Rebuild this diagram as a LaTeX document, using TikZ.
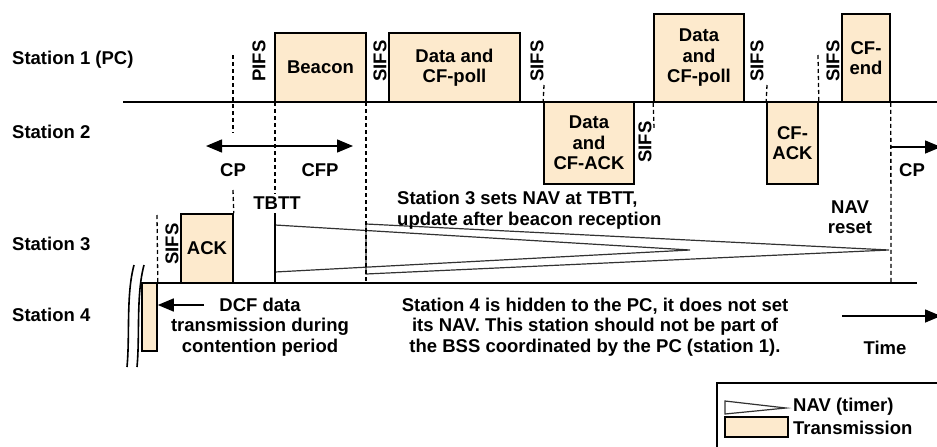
\documentclass[tikz,border=0pt]{standalone}
\usepackage{fontspec}
\setmainfont{Liberation Sans}
\usetikzlibrary{arrows.meta}
\definecolor{peach}{RGB}{253,234,205}
\definecolor{navc}{RGB}{50,50,50}
\tikzset{
  lbl/.style={font=\fontsize{18.5}{20.5}\selectfont\bfseries, inner sep=0pt, align=center},
  box/.style={draw, line width=1.6pt, fill=peach, inner sep=0pt, align=center,
              font=\fontsize{18.5}{20.5}\selectfont\bfseries},
  dsh/.style={line width=1.3pt, dash pattern=on 4pt off 3pt},
  base/.style={line width=1.6pt},
  navl/.style={line width=1.2pt, draw=navc},
  arr/.style={line width=1.5pt, -{Triangle[length=16pt,width=13pt]}},
  rlbl/.style={lbl, rotate=90},
}
\begin{document}
\begin{tikzpicture}[x=1pt,y=-1pt]
\useasboundingbox (0,0) rectangle (937,447);
\clip (0,0) rectangle (937,447);

% station labels
\node[lbl, anchor=west] (st1) at (12,60) {Station 1 (PC)};
\node[lbl, anchor=west] (st2) at (12,132) {Station 2};
\node[lbl, anchor=west] (st3) at (12,244) {Station 3};
\node[lbl, anchor=west] (st4) at (12,315) {Station 4};

% base lines
\coordinate (l1a) at (123,102); \coordinate (l1b) at (937,102);
\coordinate (l3a) at (142,283); \coordinate (l3b) at (917,283);
\draw[base] (l1a) -- (l1b);
\draw[base] (l3a) -- (l3b);

% NAV triangles
\coordinate (n1t) at (275,225); \coordinate (n1b) at (275,272); \coordinate (n1p) at (690,250);
\coordinate (n2t) at (366,224); \coordinate (n2b) at (366,274); \coordinate (n2p) at (889,250);
\draw[navl] (n1t) -- (n1p) -- (n1b);
\draw[navl] (n2t) -- (n2p) -- (n2b) -- cycle;

% transmission boxes
\node[box, minimum width=91pt, minimum height=69pt] (beacon) at (320.5,67.5) {Beacon};
\node[box, minimum width=131pt, minimum height=69pt] (dcp1) at (454.5,67.5) {Data and\\CF-poll};
\node[box, minimum width=90pt, minimum height=88pt] (dcp2) at (699,58) {Data\\and\\CF-poll};
\node[box, minimum width=48pt, minimum height=88pt] (cfend) at (866,58) {CF-\\end};
\node[box, minimum width=90pt, minimum height=82pt] (dack) at (589,143) {Data\\and\\CF-ACK};
\node[box, minimum width=51pt, minimum height=82pt] (cfack) at (792.5,143) {CF-\\ACK};
\node[box, minimum width=52pt, minimum height=69pt] (ack) at (207,248.5) {ACK};
\node[box, minimum width=15pt, minimum height=68pt] (st4box) at (149.5,317) {};

% dashed markers
\coordinate (p1) at (233,55); \coordinate (p2) at (233,133);
\coordinate (p3) at (233,190);
\draw[dsh] (p1) -- (p2);
\draw[dsh] (p3) -- (ack.north east);
\coordinate (t1) at (275,102); \coordinate (t2) at (275,194);
\coordinate (t3) at (275,213); \coordinate (t4) at (275,283);
\draw[dsh] (t1) -- (t2);
\draw[line width=1.3pt] (t3) -- (t4);
\coordinate (b1) at (366,102); \coordinate (b2) at (366,283);
\draw[dsh] (b1) -- (b2);
\coordinate (d1) at (544,85);
\draw[dsh] (d1) -- (dack.north west);
\coordinate (d2) at (654,128);
\draw[dsh] (dcp2.south west) -- (d2);
\coordinate (d3) at (767,85);
\draw[dsh] (d3) -- (cfack.north west);
\coordinate (d4) at (818,55);
\draw[dsh] (d4) -- (cfack.north east);
\coordinate (e2) at (891,283);
\draw[dsh] (cfend.south east) -- (e2);
\coordinate (s4a) at (157,215);
\draw[dsh] (s4a) -- (st4box.north east);

% IFS labels
\node[rlbl] (pifs) at (259,61) {PIFS};
\node[rlbl] (sifs1) at (380,61) {SIFS};
\node[rlbl] (sifs2) at (537,61) {SIFS};
\node[rlbl] (sifs3) at (645,142) {SIFS};
\node[rlbl] (sifs4) at (757,61) {SIFS};
\node[rlbl] (sifs5) at (833,61) {SIFS};
\node[rlbl] (sifs6) at (172,244) {SIFS};

% CP / CFP arrows
\coordinate (ca) at (206,146); \coordinate (cb) at (353,146);
\draw[line width=1.5pt, {Triangle[length=16pt,width=13pt]}-{Triangle[length=16pt,width=13pt]}] (ca) -- (cb);
\node[lbl] (cp1) at (233,170) {CP};
\node[lbl] (cfp) at (320,170) {CFP};
\node[lbl] (tbtt) at (277,203) {TBTT};
\coordinate (r1) at (891,147); \coordinate (r2) at (941,147);
\draw[arr] (r1) -- (r2);
\node[lbl] (cp2) at (912,170) {CP};

% NAV texts
\node[lbl, anchor=west, align=left] (navtxt) at (397,210) {Station 3 sets NAV at TBTT,\\update after beacon reception};
\node[lbl] (navreset) at (850,217) {NAV\\reset};

% station 4 texts
\coordinate (dcfa) at (204,305);
\draw[arr] (dcfa) -- (st4box.east |- dcfa);
\node[lbl] (dcf) at (260,327) {DCF data\\transmission during\\contention period};
\node[lbl] (hid) at (595,327) {Station 4 is hidden to the PC, it does not set\\its NAV. This station should not be part of\\the BSS coordinated by the PC (station 1).};
\coordinate (ta) at (842,316); \coordinate (tb) at (941,316);
\draw[arr] (ta) -- (tb);
\node[lbl] (time) at (885,348) {Time};

% break marks
\draw[line width=1.6pt] (134,265) .. controls (126,295) and (130,335) .. (127,367);
\draw[line width=1.6pt] (144,265) .. controls (136,295) and (140,335) .. (137,367);

% legend
\coordinate (lg1) at (717,383); \coordinate (lg2) at (945,455);
\draw[line width=1.6pt] (lg1) rectangle (lg2);
\coordinate (lt1) at (725,401); \coordinate (lt2) at (786,408); \coordinate (lt3) at (725,414);
\draw[navl] (lt1) -- (lt2) -- (lt3) -- cycle;
\node[box, minimum width=63pt, minimum height=20pt, line width=1.3pt] (lrect) at (756.5,427) {};
\node[lbl, anchor=west] (lnav) at (793,407) {NAV (timer)};
\node[lbl, anchor=west] (ltr) at (793,428) {Transmission};
\end{tikzpicture}
\end{document}
